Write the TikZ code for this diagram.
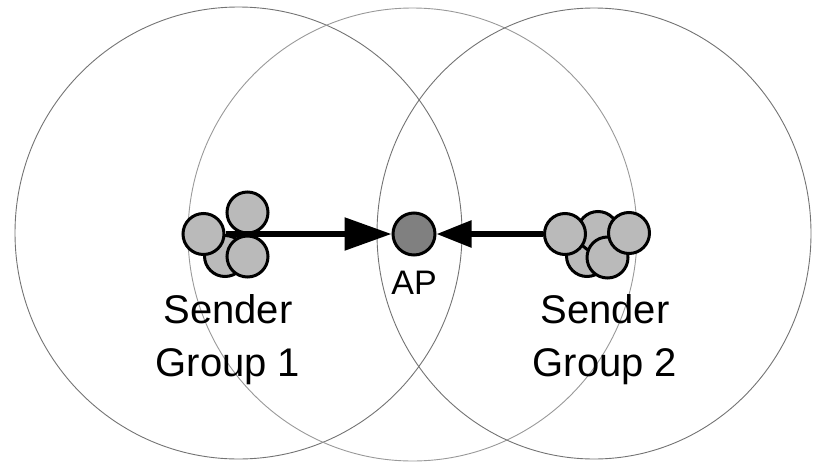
\documentclass[tikz,border=0pt]{standalone}
\usepackage{fontspec}
\setmainfont{Liberation Sans}
\usetikzlibrary{arrows.meta}

\begin{document}
\begin{tikzpicture}[x=1pt, y=-1pt,
  radiorange/.style={draw=black!55, line width=.9pt},
  sender/.style={circle, draw, line width=3pt, fill=black!27, minimum size=41pt, inner sep=0pt},
  apnode/.style={circle, draw, line width=3pt, fill=black!50, minimum size=42pt, inner sep=0pt},
  grouplabel/.style={align=center, font=\fontsize{40}{53}\selectfont, inner sep=0pt},
  sendarrow/.style={line width=5.5pt, -{Triangle[length=47pt, width=32pt]}}]
\useasboundingbox (0,0) rectangle (813,463);

% ranges
\draw[radiorange] (238.5,233) ellipse [x radius=223.5pt, y radius=226pt];
\draw[radiorange, draw=black!40] (412.5,234.5) ellipse [x radius=224.5pt, y radius=226.5pt];
\draw[radiorange] (594,233.5) ellipse [x radius=217pt, y radius=225.5pt];

% group 1
\node[sender] (g1d) at (225,256) {};
\node[sender] (g1a) at (203.5,234) {};
\node[sender] (g1b) at (247.5,212.5) {};
\node[sender] (g1c) at (247.5,256.5) {};

% group 2
\node[sender] (g2d) at (587,256) {};
\node[sender] (g2e) at (598,232) {};
\node[sender] (g2a) at (565,234) {};
\node[sender] (g2c) at (607.5,257.5) {};
\node[sender] (g2b) at (629,233) {};

\node[apnode] (ap) at (414,234) {};

\draw[sendarrow] (g1a.east) -- (ap.west);
\draw[sendarrow, -{Triangle[length=35pt, width=26pt]}] (g2a.west) -- (ap.east);

\node[font=\fontsize{34}{40}\selectfont, inner sep=0pt, anchor=base] (aplabel) at (414,294) {AP};
\node[grouplabel] (t1) at (228,340) {Sender\\Group 1};
\node[grouplabel] (t2) at (605,340) {Sender\\Group 2};

\end{tikzpicture}
\end{document}
